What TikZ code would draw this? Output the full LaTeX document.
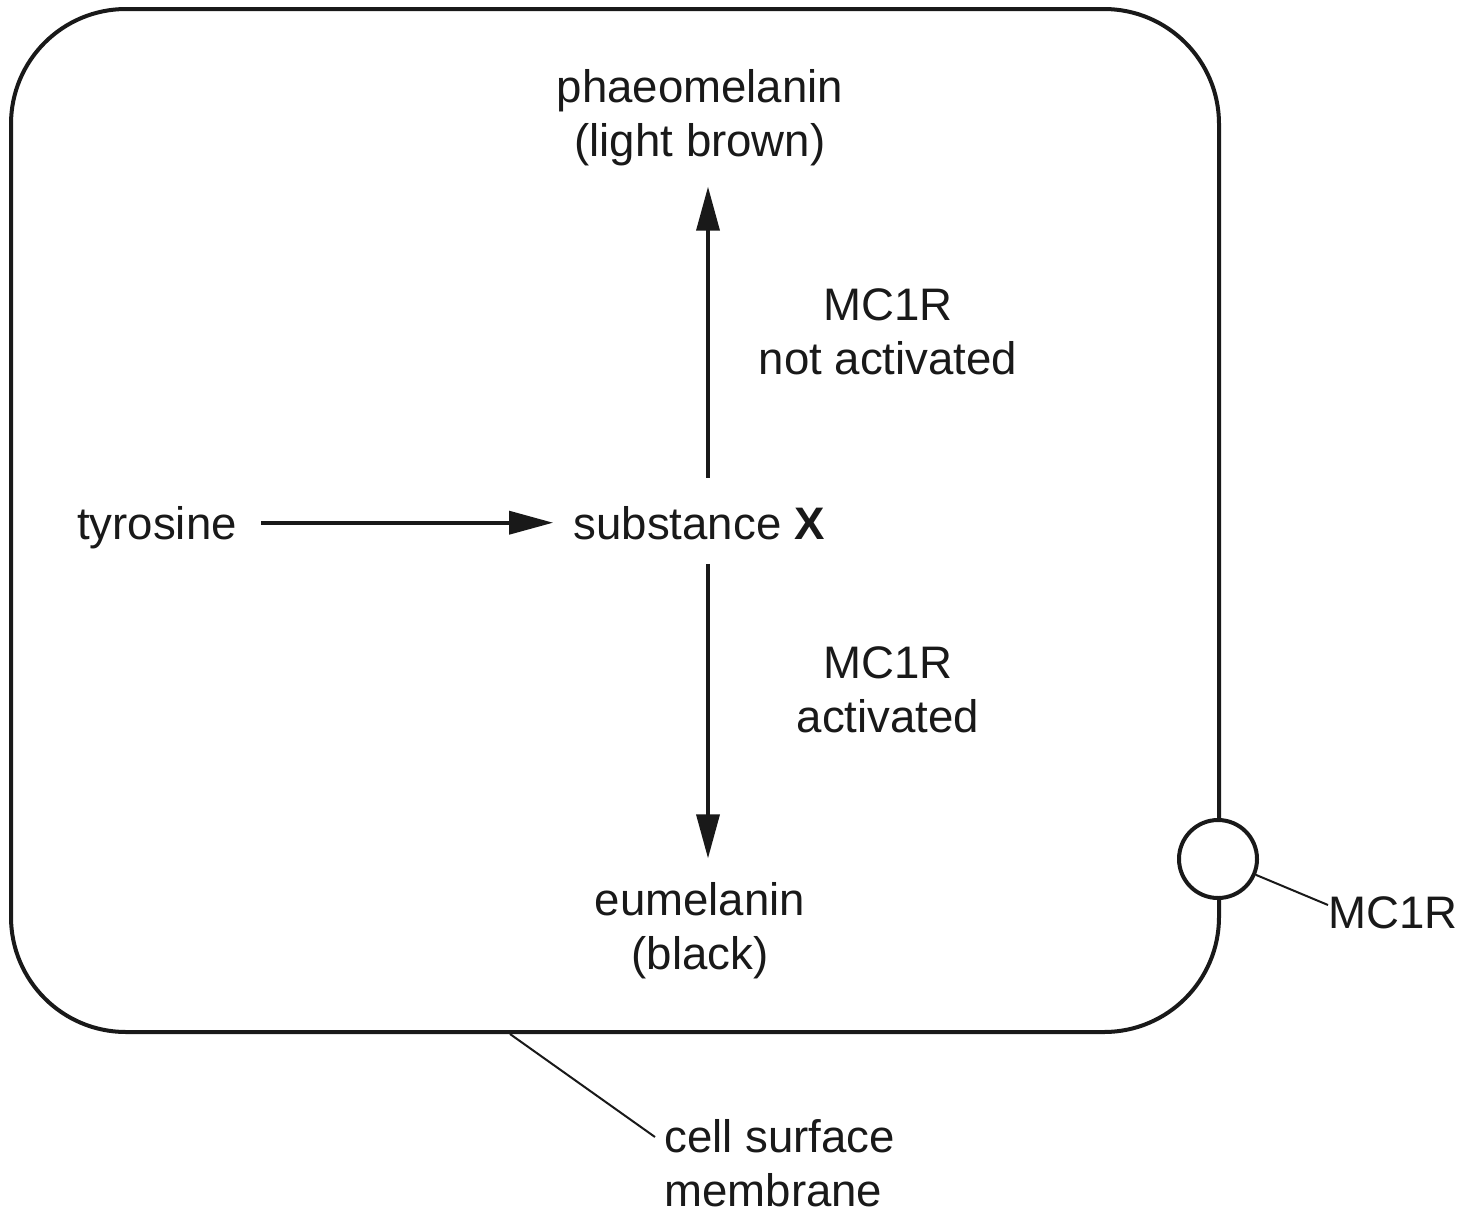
\documentclass[tikz,border=0pt]{standalone}
\usepackage{fontspec}
\setmainfont{Liberation Sans}
\usetikzlibrary{arrows.meta,calc}
\begin{document}
\begin{tikzpicture}[x=0.5pt,y=-0.5pt,
  txt/.style={inner sep=0pt, font=\fontsize{22.8}{27}\selectfont, text=black!90, align=center},
  arr/.style={line width=1.8pt, draw=black!90, -{Triangle[length=22pt,width=11.5pt]}},
  leader/.style={line width=1pt, draw=black!90},
  cellbox/.style={draw=black!90, line width=2pt, rounded corners=57.5pt, minimum width=604pt, minimum height=511.5pt, inner sep=0pt},
  recep/.style={draw=black!90, fill=white, line width=2pt, circle, minimum size=39pt, inner sep=0pt}
]
\useasboundingbox (0,0) rectangle (1465,1215);
\node[cellbox] (cell) at (615,520.5) {};
\node[recep] (mc1rc) at (1218,859) {};

\node[txt] (phaeo) at (700,118) {phaeomelanin\\(light brown)};
\node[txt] (notact) at (888,332) {MC1R\\not activated};
\node[txt] (act) at (888,690) {MC1R\\activated};
\node[txt] (eumel) at (700,931) {eumelanin\\(black)};
\node[txt, anchor=base] (subx) at (699,539) {substance \textbf{X}};
\node[txt, anchor=base] (tyr) at (157,539) {tyrosine};
\node[txt, anchor=west] (mc1rlab) at (1328,913) {MC1R};
\node[txt, anchor=west, align=left] (memlab) at (664,1163) {cell surface\\membrane};

\draw[arr, shorten <=12pt, shorten >=10pt] (tyr.east |- subx.west) -- (subx.west);
\draw[arr, shorten <=14pt, shorten >=10pt] ([xshift=4.5pt]subx.north) -- ([xshift=4.5pt]subx.north |- phaeo.south);
\draw[arr, shorten <=12pt, shorten >=12pt] ([xshift=4.5pt]subx.south) -- ([xshift=4.5pt]subx.south |- eumel.north);

\draw[leader] (mc1rc) -- ([yshift=4pt]mc1rlab.west);
\coordinate (memA) at ([xshift=-52.5pt]cell.south);
\draw[leader] (memA) -- ([xshift=-4.5pt,yshift=13pt]memlab.west);
\end{tikzpicture}
\end{document}
